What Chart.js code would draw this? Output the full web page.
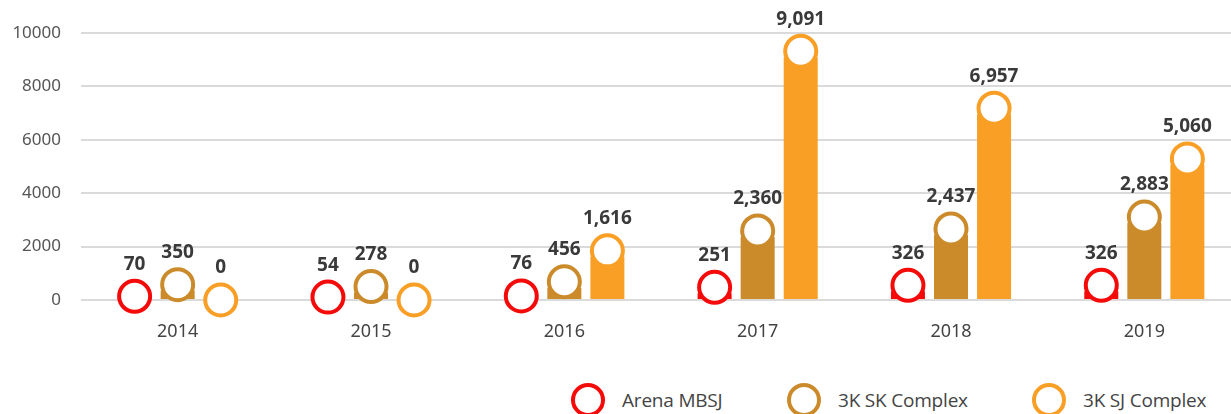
<!DOCTYPE html>
<html>
<head>
<meta charset="utf-8">
<script src="https://cdn.jsdelivr.net/npm/chart.js@4/dist/chart.umd.min.js"></script>
<style>
  html, body { margin: 0; padding: 0; background: #fff; overflow: hidden; }
  #wrap { position: relative; width: 1241px; height: 345px; }
  .legend { position: absolute; top: 383px; height: 34px; display: flex; align-items: center;
            font-family: "Open Sans", sans-serif; font-size: 19px; color: #444; letter-spacing: -0.2px; }
  .legend .dot { width: 26px; height: 26px; border: 4px solid; border-radius: 50%; background: #fff; margin-right: 17px; }
</style>
</head>
<body>
<div id="wrap"><canvas id="myChart"></canvas></div>
<div id="legend"></div>
<script>
var years = ['2014', '2015', '2016', '2017', '2018', '2019'];
var arenaMBSJ = [70, 54, 76, 251, 326, 326];
var skComplex = [350, 278, 456, 2360, 2437, 2883];
var sjComplex = [0, 0, 1616, 9091, 6957, 5060];
var yTicks = [0, 2000, 4000, 6000, 8000, 10000];

var names = ['Arena MBSJ', '3K SK Complex', '3K SJ Complex'];
var colors = ['#f50a0a', '#cc8b2b', '#f99f26'];
var legendX = [571, 787, 1032];

// circle caps + value labels on top of every bar
var capPlugin = {
    id: 'caps',
    afterDatasetsDraw: function(chart) {
        var ctx = chart.ctx;
        var base = chart.scales.y.getPixelForValue(0);
        ctx.save();
        chart.data.datasets.forEach(function(ds, i) {
            chart.getDatasetMeta(i).data.forEach(function(bar, j) {
                var cy = bar.y - Math.min(6, base - bar.y);
                ctx.beginPath();
                ctx.arc(bar.x, cy, 15.5, 0, Math.PI * 2);
                ctx.fillStyle = '#fff';
                ctx.fill();
                ctx.lineWidth = 4;
                ctx.strokeStyle = ds.backgroundColor;
                ctx.stroke();
                ctx.fillStyle = '#3a3a3a';
                ctx.font = 'bold 19px "Open Sans"';
                ctx.textAlign = 'center';
                ctx.textBaseline = 'middle';
                ctx.fillText(ds.data[j].toLocaleString('en-US'), bar.x, cy - 32);
            });
        });
        ctx.restore();
    }
};

var ctx = document.getElementById('myChart').getContext('2d');
var myChart = new Chart(ctx, {
    type: 'bar',
    data: {
        labels: years,
        datasets: [
            { label: names[0], data: arenaMBSJ, backgroundColor: colors[0] },
            { label: names[1], data: skComplex, backgroundColor: colors[1] },
            { label: names[2], data: sjComplex, backgroundColor: colors[2] }
        ]
    },
    options: {
        responsive: true,
        maintainAspectRatio: false,
        animation: false,
        layout: { padding: { top: 33, right: 0, left: 0, bottom: 0 } },
        datasets: { bar: { categoryPercentage: 0.668, barPercentage: 0.79 } },
        plugins: { legend: { display: false }, tooltip: { enabled: false } },
        scales: {
            x: {
                grid: { display: false, drawTicks: false },
                border: { display: false },
                ticks: { padding: 21, color: '#444', font: { family: 'Noto Sans', size: 18 } },
                afterFit: function(scale) { scale.height = 45; }
            },
            y: {
                min: 0,
                max: 10000,
                afterBuildTicks: function(scale) {
                    scale.ticks = yTicks.map(function(v) { return { value: v }; });
                },
                grid: { color: '#dadada', lineWidth: 2, drawTicks: false },
                border: { display: false },
                ticks: {
                    padding: 20, color: '#555', font: { family: 'Noto Sans', size: 17 },
                    callback: function(v) { return String(v); }
                },
                afterFit: function(scale) { scale.width = 81; }
            }
        }
    },
    plugins: [capPlugin]
});

var legend = document.getElementById('legend');
names.forEach(function(n, i) {
    var item = document.createElement('div');
    item.className = 'legend';
    item.style.left = legendX[i] + 'px';
    item.innerHTML = '<span class="dot" style="border-color:' + colors[i] + '"></span>' + n;
    legend.appendChild(item);
});
</script>
</body>
</html>
